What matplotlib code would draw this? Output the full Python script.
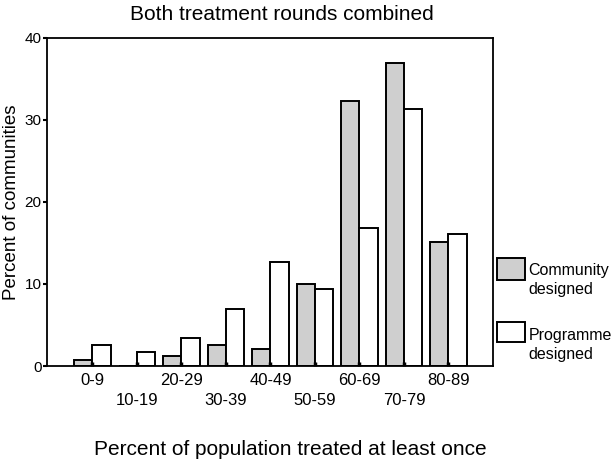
import numpy as np
import matplotlib
matplotlib.use("Agg")
import matplotlib.pyplot as plt
from matplotlib.patches import Rectangle

plt.rcParams['font.family'] = ['Liberation Sans', 'DejaVu Sans']

categories = ["0-9", "10-19", "20-29", "30-39", "40-49",
              "50-59", "60-69", "70-79", "80-89"]
community = [0.7, 0.05, 1.2, 2.6, 2.1, 10.0, 32.3, 36.9, 15.1]
programme = [2.6, 1.7, 3.4, 6.9, 12.7, 9.4, 16.8, 31.3, 16.1]
series_names = ["Community\ndesigned", "Programme\ndesigned"]
grey = "#cfcfcf"

fig = plt.figure(figsize=(6.16, 4.61), dpi=100)
ax = fig.add_axes([0.0763, 0.206, 0.724, 0.712])

x = np.arange(len(categories))
w = 0.41
ax.bar(x - w / 2, community, w, color=grey, edgecolor="black", linewidth=1.4)
ax.bar(x + w / 2, programme, w, color="white", edgecolor="black", linewidth=1.4)

ax.set_xlim(-1.02, 9.0)
ax.set_ylim(0, 40)
ax.set_yticks([0, 10, 20, 30, 40])
ax.tick_params(axis='y', labelsize=11, length=3, width=1.5, pad=1)
ax.set_xticks(x)
ax.set_xticklabels([c if i % 2 == 0 else "\n" + c for i, c in enumerate(categories)],
                   fontsize=12, linespacing=1.45)
ax.tick_params(axis='x', length=3, width=2.5, direction='in', pad=5)
for s in ax.spines.values():
    s.set_linewidth(1.3)

ax.set_title("Both treatment rounds combined", fontsize=15, pad=13, x=0.527)
ax.set_xlabel("Percent of population treated at least once", fontsize=15,
              labelpad=23, x=0.545)
ax.set_ylabel("Percent of communities", fontsize=13.5, labelpad=3)

# legend boxes drawn by hand to the right of the axes
fig.patches.append(Rectangle((0.807, 0.3926), 0.0455, 0.0477, transform=fig.transFigure,
                             facecolor=grey, edgecolor="black", linewidth=1.4))
fig.patches.append(Rectangle((0.807, 0.258), 0.0455, 0.0434, transform=fig.transFigure,
                             facecolor="white", edgecolor="black", linewidth=1.4))
fig.text(0.857, 0.4295, series_names[0], fontsize=11.5, va="top", ha="left", linespacing=1.35)
fig.text(0.858, 0.2885, series_names[1], fontsize=11.5, va="top", ha="left", linespacing=1.35)

fig.savefig("out.png", dpi=100)
